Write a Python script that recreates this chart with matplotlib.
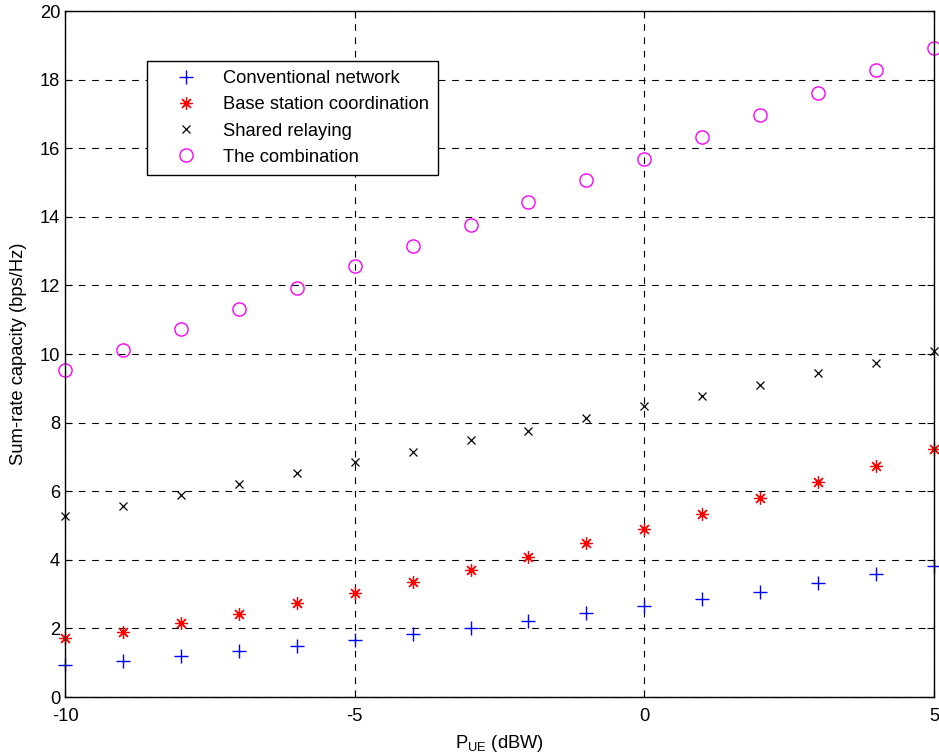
import numpy as np
import matplotlib
matplotlib.use('Agg')
import matplotlib.pyplot as plt

plt.rcParams['font.family'] = ['Liberation Sans', 'DejaVu Sans']
plt.rcParams['mathtext.default'] = 'regular'
plt.rcParams['axes.unicode_minus'] = False

# data
p_ue = np.arange(-10, 6)
conventional = [0.93, 1.06, 1.20, 1.35, 1.49, 1.66, 1.84, 2.00,
                2.22, 2.44, 2.65, 2.85, 3.07, 3.31, 3.58, 3.83]
bs_coord = [1.71, 1.90, 2.17, 2.42, 2.73, 3.02, 3.36, 3.70,
            4.09, 4.48, 4.90, 5.34, 5.79, 6.26, 6.73, 7.23]
shared_relay = [5.28, 5.56, 5.88, 6.21, 6.52, 6.84, 7.14, 7.49,
                7.77, 8.13, 8.48, 8.77, 9.11, 9.44, 9.74, 10.08]
combination = [9.53, 10.12, 10.72, 11.31, 11.92, 12.57, 13.15, 13.76,
               14.42, 15.06, 15.69, 16.34, 16.98, 17.61, 18.29, 18.93]

fs = 13.2

fig = plt.figure(figsize=(9.39, 7.55), dpi=100)
ax = fig.add_axes([0.0692, 0.0768, 0.9255, 0.9086])

ax.plot(p_ue, conventional, '+', color='blue', markersize=10, markeredgewidth=1,
        clip_on=False, label='Conventional network')
ax.plot(p_ue, bs_coord, marker=(8, 2, 0), linestyle='none', color='red', markersize=9,
        markeredgewidth=0.9, clip_on=False, label='Base station coordination')
ax.plot(p_ue, shared_relay, 'x', color='black', markersize=5.5, markeredgewidth=0.9,
        clip_on=False, label='Shared relaying')
ax.plot(p_ue, combination, 'o', color='magenta', markerfacecolor='none', markersize=9.5,
        markeredgewidth=1, clip_on=False, label='The combination')

ax.set_xlim(-10, 5)
ax.set_ylim(0, 20)
ax.set_xticks([-10, -5, 0, 5])
ax.set_yticks(np.arange(0, 21, 2))
ax.tick_params(direction='in', labelsize=fs, length=5, top=True, right=True)
ax.tick_params(axis='x', pad=8)
ax.grid(True, color='black', linestyle=(0, (6, 6)), linewidth=0.8)
ax.set_axisbelow(True)
for s in ax.spines.values():
    s.set_linewidth(1)

ax.set_xlabel(r'P$_{UE}$ (dBW)', fontsize=fs, labelpad=6)
ax.set_ylabel('Sum-rate capacity (bps/Hz)', fontsize=fs, labelpad=9)

leg = ax.legend(loc='upper left', bbox_to_anchor=(0.0944, 0.927), borderaxespad=0,
                fontsize=fs, fancybox=False, edgecolor='black', framealpha=1,
                handletextpad=0.35, borderpad=0.5, labelspacing=0.5, handlelength=3.3)
leg.get_frame().set_linewidth(1)

plt.savefig('out.png', dpi=100)
